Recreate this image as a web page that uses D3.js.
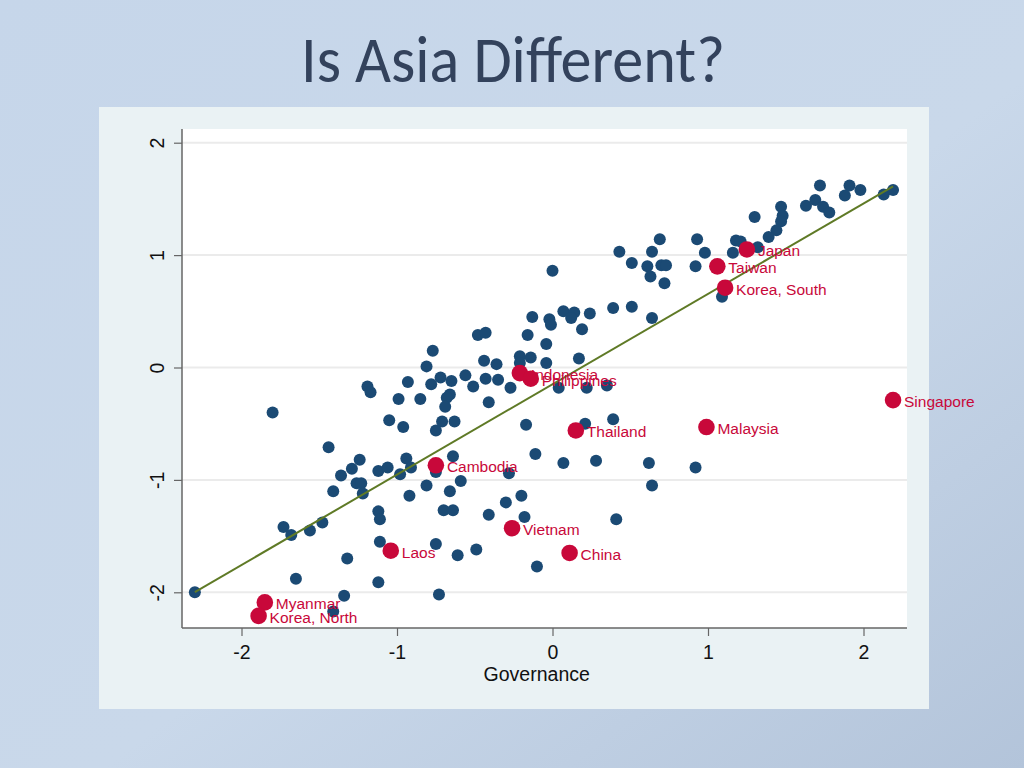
<!DOCTYPE html>
<html><head><meta charset="utf-8">
<script src="https://cdn.jsdelivr.net/npm/d3@7"></script>
<style>body{margin:0;background:#c8d7e9;} svg{display:block}</style>
</head><body>
<svg id="chart" width="1024" height="768"></svg>
<script>
const titleText = "Is Asia Different?";
const xTitle = "Governance";
const xTicks = [-2, -1, 0, 1, 2];
const yTicks = [-2, -1, 0, 1, 2];

// other countries (governance, outcome)
const otherX = [1.72,1.91,1.98,1.88,2.13,2.19,1.63,1.69,1.74,1.78,1.47,1.48,1.47,1.30,1.44,1.39,1.18,1.21,1.32,1.16,
  0.93,0.98,0.69,0.64,0.43,0.51,0.61,0.70,0.73,0.63,0.72,0.92,1.09,0.39,0.51,0.00,0.07,0.14,0.12,0.24,
  -0.02,-0.01,0.19,-0.04,0.64,0.17,-0.04,-0.13,-0.48,-0.43,-0.16,-0.77,-0.44,-0.36,-0.21,-0.14,-0.21,-0.81,-0.43,-0.35,
  -0.27,-0.51,0.04,0.22,0.35,-0.41,-0.17,0.21,0.39,-1.19,-1.17,-0.93,-0.78,-0.72,-0.65,-0.56,-0.99,-0.85,-0.66,-0.68,
  -0.69,-1.80,-1.05,-0.96,-0.71,-0.63,-0.75,-1.44,-1.24,-1.29,-1.36,-1.12,-1.06,-0.94,-0.91,-0.98,-0.75,-0.64,-0.59,-1.26,
  -1.23,-1.41,-1.22,-0.81,-0.66,-0.92,-0.11,-0.28,0.07,0.28,0.62,0.92,0.64,-0.20,-0.30,-1.12,-1.11,-0.70,-0.64,-0.41,
  -0.18,0.41,-1.73,-1.68,-1.56,-1.48,-1.11,-0.75,-0.49,-0.61,-1.32,-0.10,-1.65,-1.12,-2.30,-1.34,-0.73,-1.41];
const otherY = [1.62,1.62,1.58,1.53,1.54,1.58,1.44,1.49,1.43,1.38,1.43,1.35,1.30,1.34,1.22,1.16,1.13,1.12,1.07,1.02,
  1.14,1.02,1.14,1.03,1.03,0.93,0.90,0.91,0.91,0.81,0.75,0.90,0.63,0.53,0.54,0.86,0.50,0.49,0.44,0.48,
  0.43,0.38,0.34,0.21,0.44,0.08,0.04,0.45,0.29,0.31,0.29,0.15,0.06,0.03,0.10,0.09,0.04,0.01,-0.10,-0.11,
  -0.18,-0.17,-0.18,-0.18,-0.16,-0.31,-0.51,-0.50,-0.46,-0.17,-0.22,-0.13,-0.15,-0.09,-0.12,-0.07,-0.28,-0.28,-0.24,-0.27,
  -0.35,-0.40,-0.47,-0.53,-0.48,-0.48,-0.56,-0.71,-0.82,-0.90,-0.96,-0.92,-0.89,-0.81,-0.89,-0.95,-0.93,-0.79,-1.01,-1.03,
  -1.03,-1.10,-1.12,-1.05,-1.10,-1.14,-0.77,-0.94,-0.85,-0.83,-0.85,-0.89,-1.05,-1.14,-1.20,-1.28,-1.35,-1.27,-1.27,-1.31,
  -1.33,-1.35,-1.42,-1.49,-1.45,-1.38,-1.55,-1.57,-1.62,-1.67,-1.70,-1.77,-1.88,-1.91,-2.00,-2.03,-2.02,-2.17];

// Asian countries
const asiaNames = ["Japan","Taiwan","Korea, South","Indonesia","Philippines","Singapore","Malaysia","Thailand",
  "Cambodia","Vietnam","Laos","China","Myanmar","Korea, North"];
const asiaX = [1.25,1.06,1.11,-0.21,-0.14,2.19,0.99,0.15,-0.75,-0.26,-1.04,0.11,-1.85,-1.89];
const asiaY = [1.05,0.90,0.71,-0.05,-0.10,-0.29,-0.53,-0.56,-0.87,-1.43,-1.63,-1.65,-2.09,-2.21];

// linear fit
const fitIntercept = -0.149;
const fitSlope = 0.804;

const svg = d3.select("#chart");
const defs = svg.append("defs");
const bg = defs.append("linearGradient").attr("id","bg").attr("x1","0").attr("y1","0").attr("x2","1").attr("y2","1");
bg.append("stop").attr("offset","0%").attr("stop-color","#c6d6ea");
bg.append("stop").attr("offset","55%").attr("stop-color","#c9d8ea");
bg.append("stop").attr("offset","100%").attr("stop-color","#b3c4da");
svg.append("rect").attr("width",1024).attr("height",768).attr("fill","url(#bg)");

// title
svg.append("text").attr("x",301).attr("y",82)
  .attr("textLength",424).attr("lengthAdjust","spacingAndGlyphs")
  .style("font-family","Carlito, Calibri, 'Open Sans', sans-serif")
  .style("font-size","66px").style("fill","#33425c").text(titleText);

// graph region
svg.append("rect").attr("x",99).attr("y",107).attr("width",830).attr("height",602).attr("fill","#eaf2f4");

const L = 182, R = 907, T = 129, B = 628;
const x = d3.scaleLinear().domain([(L-552.5)/155.5, (R-552.5)/155.5]).range([L, R]);
const y = d3.scaleLinear().domain([(367.5-B)/112.4, (367.5-T)/112.4]).range([B, T]);

svg.append("rect").attr("x",L).attr("y",T).attr("width",R-L).attr("height",B-T).attr("fill","#ffffff");

// gridlines
svg.append("g").selectAll("line").data(yTicks).join("line")
  .attr("x1",L).attr("x2",R).attr("y1",d=>y(d)).attr("y2",d=>y(d))
  .attr("stroke","#ebebeb").attr("stroke-width",2);

const font = "'Liberation Sans', Arial, sans-serif";
const fmt = d => String(d);

// axes
const yAxis = svg.append("g").attr("transform",`translate(${L},0)`)
  .call(d3.axisLeft(y).tickValues(yTicks).tickSize(8).tickPadding(13).tickFormat(fmt));
yAxis.select(".domain").attr("d",`M0,${T}V${B}`);
yAxis.selectAll(".tick text").attr("transform","rotate(-90)").attr("x",0).attr("dy",null)
  .attr("y",-25).attr("text-anchor","middle").attr("dominant-baseline","central");
const xAxis = svg.append("g").attr("transform",`translate(0,${B})`)
  .call(d3.axisBottom(x).tickValues(xTicks).tickSize(8).tickPadding(9).tickFormat(fmt));
xAxis.select(".domain").attr("d",`M${L},0H${R}`);
[yAxis, xAxis].forEach(a => {
  a.select(".domain").attr("stroke","#666").attr("stroke-width",1.5);
  a.selectAll(".tick line").attr("stroke","#666").attr("stroke-width",1.2);
  a.selectAll(".tick text").style("font-family",font).style("font-size","19.5px").style("fill","#111");
});

svg.append("text").attr("x",(x(-2.38)+x(2.28))/2 - 8).attr("y",681)
  .attr("text-anchor","middle").style("font-family",font).style("font-size","19.5px").style("fill","#111").text(xTitle);

// blue points
const others = otherX.map((v,i)=>({x:v,y:otherY[i]}));
svg.append("g").selectAll("circle").data(others).join("circle")
  .attr("cx",d=>x(d.x)).attr("cy",d=>y(d.y)).attr("r",6).attr("fill","#1b4a74");

// fit line
const allX = otherX.concat(asiaX);
const ext = d3.extent(allX);
svg.append("line").attr("x1",x(ext[0])).attr("y1",y(fitIntercept+fitSlope*ext[0]))
  .attr("x2",x(ext[1])).attr("y2",y(fitIntercept+fitSlope*ext[1]))
  .attr("stroke","#5f7a26").attr("stroke-width",2);

// Asian points
const asia = asiaNames.map((n,i)=>({name:n,x:asiaX[i],y:asiaY[i]}));
const ag = svg.append("g");
ag.selectAll("circle").data(asia).join("circle")
  .attr("cx",d=>x(d.x)).attr("cy",d=>y(d.y)).attr("r",8.3).attr("fill","#c8083a");
ag.selectAll("text").data(asia).join("text")
  .attr("x",d=>x(d.x)+11).attr("y",d=>y(d.y)+1.5).attr("dominant-baseline","central")
  .style("font-family",font).style("font-size","15.5px").style("fill","#c8083a").text(d=>d.name);
</script>
</body></html>
